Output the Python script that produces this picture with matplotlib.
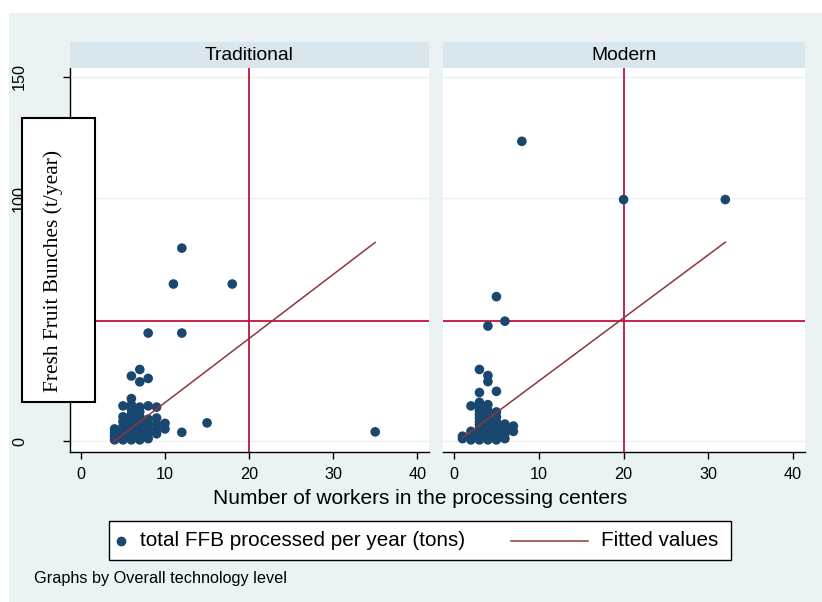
import matplotlib
matplotlib.use("Agg")
import matplotlib.pyplot as plt
from matplotlib.patches import Rectangle
from matplotlib.lines import Line2D
import numpy as np

# ---------------- data ----------------
panel_titles = ["Traditional", "Modern"]

trad_workers = [4, 4, 4, 4,
                5, 5, 5, 5, 5, 5, 5,
                6, 6, 6, 6, 6, 6, 6, 6, 6, 6,
                7, 7, 7, 7, 7, 7, 7, 7,
                8, 8, 8, 8, 8, 8,
                9, 9, 9, 9, 9,
                10, 10,
                12, 11, 18, 8, 12, 7, 6, 7, 8, 15, 12, 35]
trad_ffb = [0.5, 2, 3.5, 5,
            0.5, 2, 4, 6, 8, 10, 14.5,
            0.5, 1.5, 3, 5, 7, 9, 11, 13, 15, 17.5,
            0.5, 2, 4, 6, 8, 10, 12, 14,
            1, 3, 5, 7, 9, 14.5,
            3, 5, 7, 9.5, 14,
            5, 7.3,
            79.5, 64.7, 64.7, 44.5, 44.5, 29.5, 26.8, 24.4, 25.8, 7.5, 3.6, 3.8]

mod_workers = [1, 1,
               2, 2, 2, 2,
               3, 3, 3, 3, 3, 3, 3, 3, 3, 3, 3, 3, 3,
               4, 4, 4, 4, 4, 4, 4, 4, 4, 4, 4, 4, 4,
               5, 5, 5, 5, 5, 5, 5, 5, 5,
               6, 6, 6, 6, 6,
               7, 7,
               8, 20, 32]
mod_ffb = [1, 2,
           0.5, 2.5, 4, 14.5,
           0.5, 2, 3.5, 5, 6.5, 8, 9.5, 11, 12.5, 14, 16, 20, 29.5,
           0.5, 2, 3.5, 5, 6.5, 8, 9.5, 11, 12.5, 15, 24.5, 27, 47.4,
           0.5, 2, 4, 6, 8, 10, 12, 20.5, 59.5,
           1, 3, 5, 7, 49.4,
           4, 6.2,
           123.5, 99.5, 99.5]

# fitted values: intercept, slope per panel
trad_fit = [-10.55, 2.64]
mod_fit = [-1.27, 2.60]

ref_x = 20
ref_y = 49.5

x_ticks = [0, 10, 20, 30, 40]
y_ticks = [0, 50, 100, 150]
y_ticklabels = ["0", "", "100", "150"]

# ---------------- style ----------------
W, H = 822, 602
BG = "#eaf2f3"
STRIP = "#d9e6eb"
NAVY = "#1a476f"
MAROON = "#90353b"
CRIMSON = "#c4123f"
SANS = ["Liberation Sans", "DejaVu Sans"]
SERIF = ["Liberation Serif", "DejaVu Serif"]

plt.rcParams["font.family"] = SANS

def fx(px):
    return px / W

def fy(py):
    return 1 - py / H

fig = plt.figure(figsize=(W / 100, H / 100), dpi=100)
fig.patch.set_facecolor("white")
fig.patches.append(Rectangle((fx(9), 0), 1 - fx(9), fy(13), transform=fig.transFigure,
                             facecolor=BG, edgecolor="none", zorder=-5))

plot_top, plot_bot = 68, 452
panels = [(70, 429), (443, 805)]
datasets = [(trad_workers, trad_ffb, trad_fit), (mod_workers, mod_ffb, mod_fit)]

axes = []
for i, ((l, r), (xs, ys, fit), title) in enumerate(zip(panels, datasets, panel_titles)):
    ax = fig.add_axes([fx(l), fy(plot_bot), (r - l) / W, (plot_bot - plot_top) / H])
    ax.set_zorder(1)
    ax.set_facecolor("white")
    ax.set_xlim(-1.3, 41.4)
    ax.set_ylim(-4.5, 153.7)
    for yv in y_ticks:
        ax.axhline(yv, color=BG, lw=1.0, zorder=0)
    ax.axvline(ref_x, color=CRIMSON, lw=1.3, zorder=1)
    ax.axhline(ref_y, color=CRIMSON, lw=1.3, zorder=1)
    ax.scatter(xs, ys, s=48, color=NAVY, edgecolors="none", zorder=3)
    xx = np.array([min(xs), max(xs)], dtype=float)
    ax.plot(xx, fit[0] + fit[1] * xx, color=MAROON, lw=1.1, zorder=4)

    for side in ["top", "right"]:
        ax.spines[side].set_visible(False)
    ax.spines["bottom"].set_color("black")
    ax.spines["bottom"].set_linewidth(1.0)
    ax.set_xticks(x_ticks)
    ax.set_xticklabels([str(v) for v in x_ticks])
    ax.tick_params(axis="x", length=5, width=1.0, pad=6, labelsize=11.7, colors="black")
    ax.set_yticks(y_ticks)
    if i == 0:
        ax.spines["left"].set_color("black")
        ax.spines["left"].set_linewidth(1.0)
        ax.set_yticklabels(y_ticklabels)
        ax.tick_params(axis="y", length=5, width=1.0, pad=26, labelsize=11.7)
        for lab in ax.get_yticklabels():
            lab.set_rotation(90)
            lab.set_va("center")
            lab.set_ha("right")
    else:
        ax.spines["left"].set_visible(False)
        ax.tick_params(axis="y", left=False, labelleft=False)

    # strip
    ax.add_patch(Rectangle((0, 1.0), 1, 26 / (plot_bot - plot_top), transform=ax.transAxes,
                           facecolor=STRIP, edgecolor="none", clip_on=False, zorder=5))
    ax.text(0.5, 1 + 13 / (plot_bot - plot_top), title, transform=ax.transAxes,
            ha="center", va="center", fontsize=13.9, color="black", zorder=6)
    axes.append(ax)

# x label
fig.text(fx(420), fy(498), "Number of workers in the processing centers",
         ha="center", va="center", fontsize=15)

# y label box (overlay)
fig.patches.append(Rectangle((fx(22), fy(402)), (95 - 22) / W, (402 - 118) / H,
                             transform=fig.transFigure, facecolor="white",
                             edgecolor="black", lw=1.5, zorder=10))
fig.text(fx(53), fy(271), "Fresh Fruit Bunches (t/year)", rotation=90,
         ha="center", va="center", fontsize=15.4, family=SERIF, zorder=11)

# legend box
fig.patches.append(Rectangle((fx(109), fy(560)), (731 - 109) / W, (560 - 521) / H,
                             transform=fig.transFigure, facecolor="white",
                             edgecolor="black", lw=1.0, zorder=2))
fig.add_artist(Line2D([fx(121)], [fy(540.5)], marker="o", markersize=7, color=NAVY,
                      markeredgewidth=0, linestyle="none", transform=fig.transFigure,
                      zorder=4))
fig.text(fx(140), fy(540.5), "total FFB processed per year (tons)", ha="left",
         va="center", fontsize=14.9, zorder=4)
fig.add_artist(Line2D([fx(511), fx(588)], [fy(540.5), fy(540.5)], color=MAROON, lw=1.1,
                      transform=fig.transFigure, zorder=4))
fig.text(fx(601), fy(540.5), "Fitted values", ha="left", va="center", fontsize=14.9,
         zorder=4)

fig.text(fx(34), fy(578), "Graphs by Overall technology level", ha="left", va="center",
         fontsize=11.7, zorder=4)

fig.savefig("out.png", dpi=100)
